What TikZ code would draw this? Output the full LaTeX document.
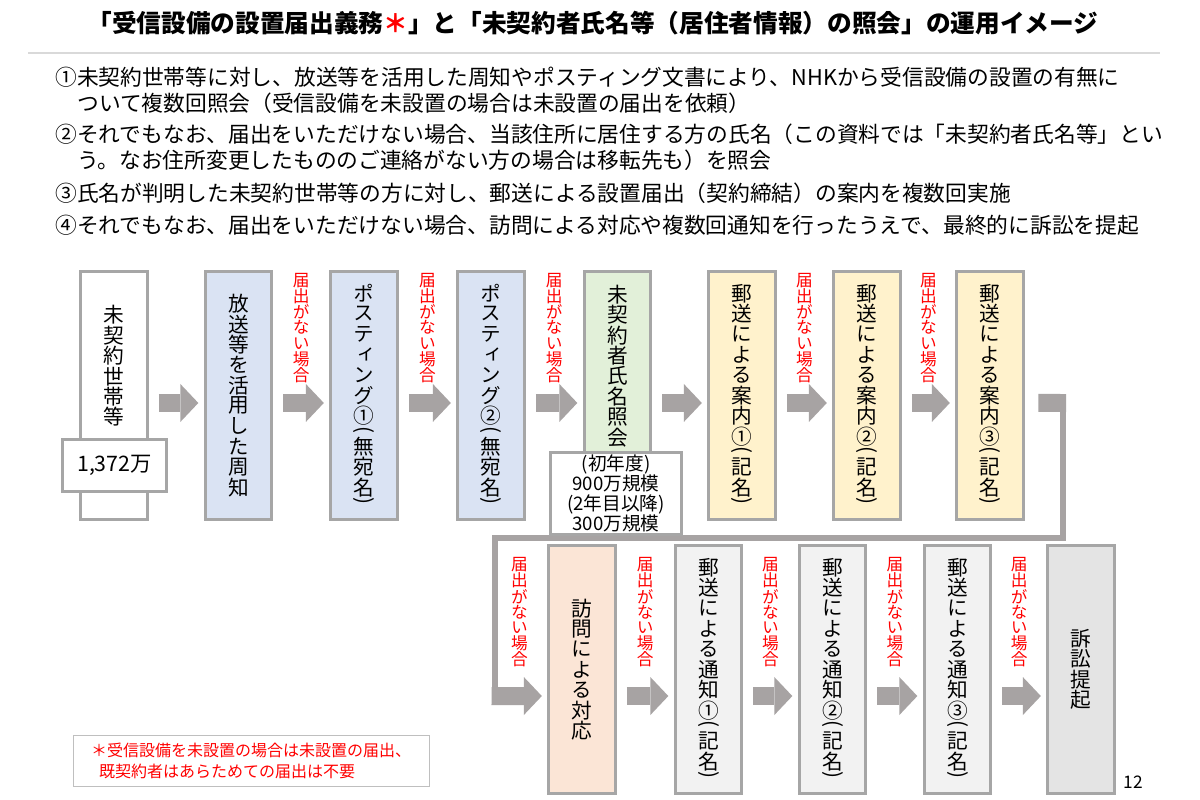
\documentclass[tikz,border=0pt]{standalone}
\usepackage{fontspec}
\usepackage{graphicx}
\setmainfont{Noto Sans CJK JP}
\newfontfamily\tatefont[RawFeature=+vert]{Noto Sans CJK JP}
\usetikzlibrary{arrows.meta}

\definecolor{boxgray}{HTML}{A6A6A6}
\definecolor{arrowgray}{RGB}{167,163,163}
\definecolor{bluefill}{HTML}{DAE3F3}
\definecolor{greenfill}{HTML}{E2F0D9}
\definecolor{yellowfill}{HTML}{FFF2CC}
\definecolor{peachfill}{HTML}{FBE5D6}
\definecolor{lightfill}{HTML}{F2F2F2}
\definecolor{suitfill}{HTML}{E4E4E4}
\definecolor{rulegray}{HTML}{D9D9D9}
\definecolor{footgray}{HTML}{BFBFBF}

% vertical stack of characters
\newlength\tatepitch
\makeatletter
\newcommand\tate[1]{\vbox{\offinterlineskip\tate@go#1\relax}}
\def\tate@go#1{\ifx\relax#1\else\tate@cell#1\expandafter\tate@go\fi}
\def\tate@cell#1{%
  \if (#1\tate@put{.5\tatepitch}{\rotatebox[origin=c]{-90}{(}}%
  \else\if )#1\tate@put{.5\tatepitch}{\rotatebox[origin=c]{-90}{)}}%
  \else\tate@put{\tatepitch}{#1}\fi\fi}
\def\tate@put#1#2{\vbox to #1{\vss\hbox to 1.2em{\hss#2\hss}\vss}}
\makeatother

\begin{document}
\begin{tikzpicture}[x=0.75pt, y=-0.75pt,
    box/.style={draw=boxgray, line width=2.25pt, minimum width=50pt, minimum height=186pt, inner sep=0pt,
      font=\tatefont\fontsize{15.5pt}{15.5pt}\selectfont\setlength\tatepitch{15.3pt}},
    tatetext/.style={inner sep=0pt, font=\tatefont\fontsize{15.5pt}{15.5pt}\selectfont\setlength\tatepitch{15.3pt}},
    cond/.style={text=red, inner sep=0pt, font=\tatefont\fontsize{12.5pt}{12.5pt}\selectfont\setlength\tatepitch{11.8pt}},
    flow/.style={draw=arrowgray, line width=13.5pt, shorten <=7.5pt, shorten >=4pt,
      -{Triangle[length=13.5pt, width=28.5pt, line width=0pt]}},
    flowbar/.style={draw=arrowgray, line width=13.5pt},
    elbow/.style={draw=arrowgray, line width=4.5pt, line join=miter},
    bullet/.style={anchor=west, inner sep=0pt, font=\fontsize{16.3pt}{16.3pt}\selectfont},
    smallbox/.style={draw=boxgray, line width=2.25pt, fill=white, inner sep=0pt}]

\fill[white] (0,0) rectangle (1200,800);
\useasboundingbox (0,0) rectangle (1200,800);

\node[font=\bfseries\fontsize{18.5pt}{18.5pt}\selectfont] (title) at (593,23)
  {「受信設備の設置届出義務\textcolor{red}{＊}」と「未契約者氏名等（居住者情報）の照会」の運用イメージ};
\draw[rulegray, line width=1.2pt] (28,53) -- (1160,53);

\node[bullet] (line1) at (55,77) {①未契約世帯等に対し、放送等を活用した周知やポスティング文書により、NHKから受信設備の設置の有無に};
\node[bullet] (line2) at (77,103) {ついて複数回照会（受信設備を未設置の場合は未設置の届出を依頼）};
\node[bullet] (line3) at (55,134) {②それでもなお、届出をいただけない場合、当該住所に居住する方の氏名（この資料では「未契約者氏名等」とい};
\node[bullet] (line4) at (77,160) {う。なお住所変更したもののご連絡がない方の場合は移転先も）を照会};
\node[bullet] (line5) at (55,193) {③氏名が判明した未契約世帯等の方に対し、郵送による設置届出（契約締結）の案内を複数回実施};
\node[bullet] (line6) at (55,225) {④それでもなお、届出をいただけない場合、訪問による対応や複数回通知を行ったうえで、最終的に訴訟を提起};

\node[box, fill=white] (hh) at (114,395.5) {};
\node[tatetext] (hhtext) at (114,366) {\tate{未契約世帯等}};
\node[smallbox, minimum width=78pt, minimum height=39pt, font=\fontsize{16pt}{16pt}\selectfont] (count) at (114.5,465.5) {1,372万};
\node[box, fill=bluefill] (bcast) at (238.5,395.5) {\tate{放送等を活用した周知}};
\node[box, fill=bluefill] (post1) at (364,395.5) {\tate{ポスティング①(無宛名)}};
\node[box, fill=bluefill] (post2) at (491,395.5) {\tate{ポスティング②(無宛名)}};
\node[box, fill=greenfill] (query) at (617.5,395.5) {};
\node[tatetext] (querytext) at (617.5,366) {\tate{未契約者氏名照会}};
\node[box, fill=yellowfill] (mail1) at (742,395.5) {\tate{郵送による案内①(記名)}};
\node[box, fill=yellowfill] (mail2) at (867,395.5) {\tate{郵送による案内②(記名)}};
\node[box, fill=yellowfill] (mail3) at (990,395.5) {\tate{郵送による案内③(記名)}};

\node[box, fill=peachfill] (visit) at (582,669.5) {\tate{訪問による対応}};
\node[box, fill=lightfill] (note1) at (708.5,669.5) {\tate{郵送による通知①(記名)}};
\node[box, fill=lightfill] (note2) at (832.5,669.5) {\tate{郵送による通知②(記名)}};
\node[box, fill=lightfill] (note3) at (957.5,669.5) {\tate{郵送による通知③(記名)}};
\node[box, fill=suitfill] (suit) at (1081,669.5) {\tate{訴訟提起}};

\draw[flow] ([yshift=-5.6pt]hh.east) -- ([yshift=-5.6pt]bcast.west);
\draw[flow] ([yshift=-5.6pt]bcast.east) -- node[cond, yshift=56.6pt] (c1) {\tate{届出がない場合}} ([yshift=-5.6pt]post1.west);
\draw[flow] ([yshift=-5.6pt]post1.east) -- node[cond, yshift=56.6pt] (c2) {\tate{届出がない場合}} ([yshift=-5.6pt]post2.west);
\draw[flow] ([yshift=-5.6pt]post2.east) -- node[cond, yshift=56.6pt] (c3) {\tate{届出がない場合}} ([yshift=-5.6pt]query.west);
\draw[flow] ([yshift=-5.6pt]query.east) -- ([yshift=-5.6pt]mail1.west);
\draw[flow] ([yshift=-5.6pt]mail1.east) -- node[cond, yshift=56.6pt] (c4) {\tate{届出がない場合}} ([yshift=-5.6pt]mail2.west);
\draw[flow] ([yshift=-5.6pt]mail2.east) -- node[cond, yshift=56.6pt] (c5) {\tate{届出がない場合}} ([yshift=-5.6pt]mail3.west);

\coordinate (r1) at ([xshift=10.2pt,yshift=-5.6pt]mail3.east);
\coordinate (r2) at (1066,403);
\coordinate (r3) at (1062.5,394);
\coordinate (d1) at (1062.5,537.5);
\coordinate (d2) at (495,537.5);
\coordinate (l1) at (491.5,696);
\draw[flowbar] (r1) -- (r2);
\draw[elbow] (r3) -- (d1) -- (d2) -- (d2 |- l1);

\node[smallbox, minimum width=98.25pt, minimum height=61.5pt, align=center,
  font=\fontsize{14pt}{15pt}\selectfont] (scale) at (616,493.5) {(初年度)\\900万規模\\(2年目以降)\\300万規模};

\draw[flow, shorten <=0pt] (l1) -- node[cond, yshift=63pt] (c6) {\tate{届出がない場合}} ([yshift=-19.9pt]visit.west);
\draw[flow] ([yshift=-19.9pt]visit.east) -- node[cond, yshift=63pt] (c7) {\tate{届出がない場合}} ([yshift=-19.9pt]note1.west);
\draw[flow] ([yshift=-19.9pt]note1.east) -- node[cond, yshift=63pt] (c8) {\tate{届出がない場合}} ([yshift=-19.9pt]note2.west);
\draw[flow] ([yshift=-19.9pt]note2.east) -- node[cond, yshift=63pt] (c9) {\tate{届出がない場合}} ([yshift=-19.9pt]note3.west);
\draw[flow] ([yshift=-19.9pt]note3.east) -- node[cond, yshift=63pt] (c10) {\tate{届出がない場合}} ([yshift=-19.9pt]suit.west);

\node[draw=footgray, line width=0.75pt, minimum width=267pt, minimum height=38.25pt, align=left, text=red,
  font=\fontsize{12pt}{15.75pt}\selectfont] (foot) at (251,760.5)
  {＊受信設備を未設置の場合は未設置の届出、\\\hspace{0.5em}既契約者はあらためての届出は不要};
\node[font=\fontsize{13pt}{13pt}\selectfont] (page) at (1133,782) {12};
\end{tikzpicture}
\end{document}
